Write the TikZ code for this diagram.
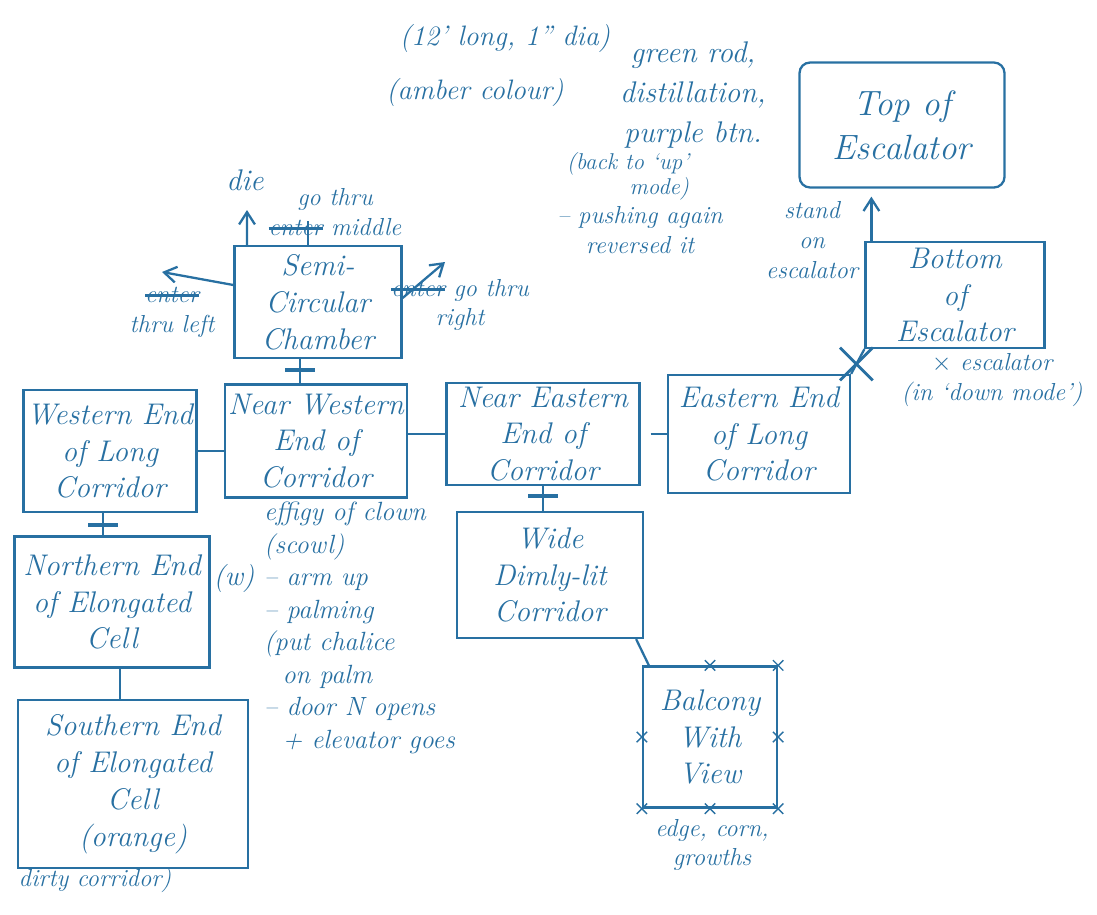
\documentclass[tikz,border=0pt]{standalone}
\usepackage{tikz}
\usetikzlibrary{arrows.meta}
\usetikzlibrary{positioning, shapes.misc, calc}

\definecolor{inkblue}{RGB}{40,112,162}
\newlength{\strikelen}
\newcommand{\struck}[1]{\settowidth{\strikelen}{#1}\rlap{#1}\rule[0.5ex]{\strikelen}{1.6pt}}
\newcommand{\roomfont}{\fontsize{17}{21}\selectfont\itshape}
\newcommand{\notefont}{\fontsize{14}{17}\selectfont\itshape}

\begin{document}
\begin{tikzpicture}[x=0.02cm,y=-0.02cm,
    ink/.style={draw=inkblue,line width=1.3pt},
    room/.style={ink,rectangle,align=center,text=inkblue,font=\roomfont,inner sep=2pt},
    note/.style={text=inkblue,align=center,font=\notefont,inner sep=1pt},
    door/.style={fill=inkblue,minimum width=0.6cm,minimum height=2.4pt,inner sep=0pt},
    xmark/.style={cross out,draw=inkblue,line width=1.6pt,minimum size=0.6cm,inner sep=0pt},
    tick/.style={cross out,draw=inkblue,line width=0.8pt,minimum size=0.18cm,inner sep=0pt},
    exit/.style={ink,-{Straight Barb[length=7pt,width=9pt]}}]
    \useasboundingbox (0,0) rectangle (1097,914);

    % Rooms
    \node[room,rounded corners=6pt,minimum width=4.1cm,minimum height=2.5cm,font=\fontsize{20}{25}\selectfont\itshape] (top) at (902,125) {Top of\\Escalator};
    \node[room,minimum width=3.58cm,minimum height=2.12cm] (bot) at (955,295) {Bottom\\of\\Escalator};
    \node[room,minimum width=3.34cm,minimum height=2.24cm] (semi) at (318,302) {Semi-\\Circular\\Chamber};
    \node[room,minimum width=3.3cm,minimum height=2.44cm] (west) at (110,451) {Western End\\of Long\\Corridor};
    \node[room,minimum width=3.56cm,minimum height=2.26cm] (nwest) at (316,441) {Near Western\\End of\\Corridor};
    \node[room,minimum width=3.86cm,minimum height=2.04cm] (neast) at (543,434) {Near Eastern\\End of\\Corridor};
    \node[room,minimum width=3.64cm,minimum height=2.36cm] (east) at (759,434) {Eastern End\\of Long\\Corridor};
    \node[room,minimum width=3.72cm,minimum height=2.52cm] (wide) at (550,575) {Wide\\Dimly-lit\\Corridor};
    \node[room,minimum width=2.68cm,minimum height=2.82cm] (balc) at (710,737) {Balcony\\With\\View};
    \node[room,minimum width=3.9cm,minimum height=2.62cm] (north) at (112,602) {Northern End\\of Elongated\\Cell};
    \node[room,minimum width=4.6cm,minimum height=3.36cm] (south) at (133,784) {Southern End\\of Elongated\\Cell\\(orange)};

    % Passages (bar = door)
    \draw[ink] ([xshift=-0.36cm]semi.south) -- ([xshift=-0.36cm]semi.south |- nwest.north)
      node[door,pos=0.45] {};
    \draw[ink] (west.east) -- (west.east -| nwest.west);
    \draw[ink] (neast.west -| nwest.east) -- (neast.west);
    \draw[ink,shorten <=0.2cm] (neast.east) -- (east.west);
    \draw[ink] (neast.south) -- (neast.south |- wide.north) node[door,pos=0.4] {};
    \draw[ink] ([xshift=-0.14cm]west.south) -- ([xshift=-0.14cm]west.south |- north.north)
      node[door,pos=0.55] {};
    \draw[ink] ([xshift=0.16cm]north.south) -- ([xshift=0.16cm]north.south |- south.north);
    \draw[ink] ([xshift=-0.16cm]wide.south east) -- ([xshift=0.14cm]balc.north west);
    \draw[ink] (east.north east) -- (bot.south west) node[xmark,pos=0.4] {};
    \draw[exit,shorten >=0.16cm] ([xshift=0.14cm]bot.north west) -- ([xshift=0.14cm]bot.north west |- top.south);

    % Ways out of the chamber
    \coordinate (die) at (247,210);
    \coordinate (leftway) at (162,272);
    \coordinate (rightway) at (445,262);
    \draw[exit] ([xshift=-1.42cm]semi.north) -- (die);
    \draw[ink] ([xshift=-0.2cm]semi.north) -- ++(0,-24);
    \draw[exit] ([yshift=0.34cm]semi.west) -- (leftway);
    \draw[exit] ([yshift=0.08cm]semi.east) -- (rightway);

    % Balcony edge marks
    \foreach \a in {north,north east,east,south east,south,south west,west}
      \node[tick] at (balc.\a) {};

    % Notes
    \node[note,font=\fontsize{17}{21}\selectfont\itshape] (dienote) at (245,180) {die};
    \node[note] (midnote) at (335,212) {go thru\\\struck{enter} middle};
    \node[note] (leftnote) at (172,312) {\struck{enter}\\thru left};
    \node[note] (rightnote) at (460,305) {\struck{enter} go thru\\right};
    \node[note,font=\fontsize{16}{20}\selectfont\itshape] (rodsize) at (505,38) {(12' long, 1'' dia)};
    \node[note,font=\fontsize{16}{20}\selectfont\itshape] (rodcol) at (475,92) {(amber colour)};
    \node[note,font=\fontsize{17}{22.5}\selectfont\itshape] (rod) at (693,95) {green rod,\\distillation,\\purple btn.};
    \node[note,align=right,font=\fontsize{13}{14}\selectfont\itshape] (back) at (628,176) {(back to `up'\\mode)};
    \node[note] (push) at (640,230) {-- pushing again\\reversed it};
    \node[note] (stand) at (812,240) {stand\\on\\escalator};
    \node[note] (down) at (992,380) {$\times$ escalator\\(in `down mode')};
    \node[note,align=left,anchor=north west,font=\fontsize{15}{18.5}\selectfont\itshape] (clown) at (262,500)
      {effigy of clown\\(scowl)\\-- arm up\\-- palming\\(put chalice\\\ \ on palm\\-- door N opens\\\ \ + elevator goes};
    \node[note,font=\fontsize{16}{20}\selectfont\itshape] (wnote) at (234,578) {(w)};
    \node[note] (dirty) at (95,880) {dirty corridor)};
    \node[note] (edge) at (712,845) {edge, corn,\\growths};
\end{tikzpicture}
\end{document}
